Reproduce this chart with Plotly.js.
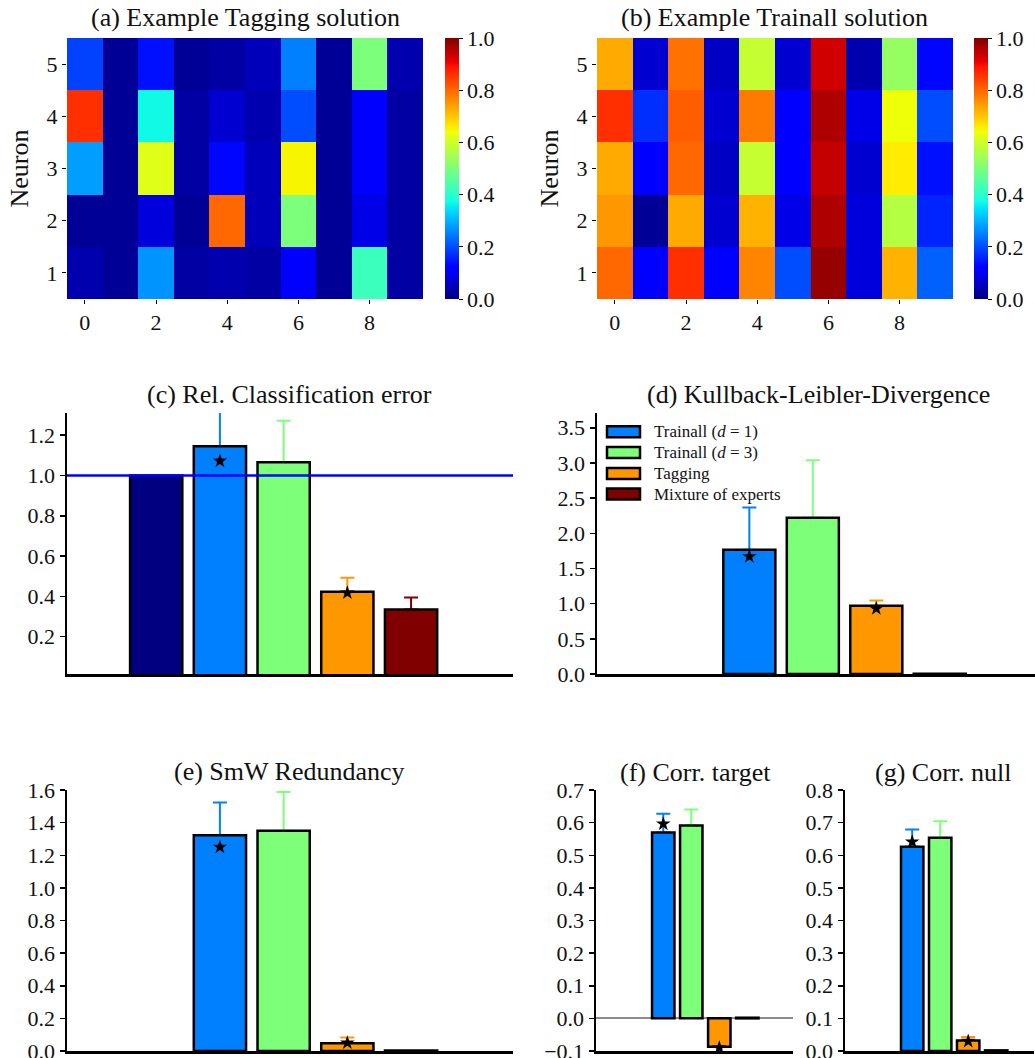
<!DOCTYPE html>
<html>
<head>
<meta charset="utf-8">
<script src="https://cdn.plot.ly/plotly-3.0.1.min.js"></script>
<style>html,body{margin:0;padding:0;background:#fff;}#chart{width:1035px;height:1058px;}</style>
</head>
<body>
<div id="chart"></div>
<script>
// ---------- data ----------
const neuronIdx = [1, 2, 3, 4, 5];
const inputIdx = [0, 1, 2, 3, 4, 5, 6, 7, 8, 9];
// rows: neuron 1..5, columns: input 0..9
const taggingZ = [
  [0.04, 0.02, 0.27, 0.03, 0.04, 0.03, 0.11, 0.02, 0.42, 0.03],
  [0.02, 0.02, 0.08, 0.02, 0.80, 0.05, 0.50, 0.02, 0.09, 0.03],
  [0.28, 0.02, 0.62, 0.03, 0.13, 0.05, 0.65, 0.02, 0.12, 0.03],
  [0.86, 0.02, 0.37, 0.03, 0.07, 0.04, 0.20, 0.02, 0.12, 0.03],
  [0.19, 0.02, 0.14, 0.02, 0.03, 0.05, 0.25, 0.02, 0.50, 0.04]
];
const trainallZ = [
  [0.80, 0.12, 0.86, 0.12, 0.77, 0.20, 0.98, 0.08, 0.72, 0.22],
  [0.75, 0.02, 0.73, 0.07, 0.72, 0.09, 0.96, 0.08, 0.57, 0.16],
  [0.73, 0.12, 0.80, 0.06, 0.59, 0.12, 0.94, 0.07, 0.66, 0.14],
  [0.86, 0.17, 0.81, 0.07, 0.78, 0.12, 0.96, 0.09, 0.64, 0.20],
  [0.73, 0.07, 0.79, 0.06, 0.59, 0.07, 0.93, 0.04, 0.53, 0.13]
];

const methods = ["Baseline", "Trainall (d = 1)", "Trainall (d = 3)", "Tagging", "Mixture of experts"];
const legendLabels = ["Trainall (<i>d</i> = 1)", "Trainall (<i>d</i> = 3)", "Tagging", "Mixture of experts"];
const methodColors = ["#000080", "#0080ff", "#7dff7a", "#ff9800", "#800000"];

const relErr      = [1.000, 1.145, 1.066, 0.423, 0.335];
const relErrSd    = [0, 0.230, 0.205, 0.070, 0.060];
const relErrStar  = [null, 1.072, null, 0.418, null];

const kld         = [null, 1.766, 2.220, 0.970, 0.005];
const kldSd       = [0, 0.600, 0.820, 0.075, 0];
const kldStar     = [null, 1.670, null, 0.930, null];

const smw         = [null, 1.323, 1.350, 0.047, 0.003];
const smwSd       = [0, 0.200, 0.238, 0.035, 0];
const smwStar     = [null, 1.250, null, 0.050, null];

const corrTarget     = [null, 0.570, 0.591, -0.087, 0.002];
const corrTargetSd   = [0, 0.057, 0.049, 0.005, 0];
const corrTargetStar = [null, 0.596, null, -0.090, null];

const corrNull     = [null, 0.626, 0.654, 0.032, 0.002];
const corrNullSd   = [0, 0.053, 0.050, 0.011, 0];
const corrNullStar = [null, 0.641, null, 0.030, null];

const panelTitles = ["(a) Example Tagging solution", "(b) Example Trainall solution",
  "(c) Rel. Classification error", "(d) Kullback-Leibler-Divergence",
  "(e) SmW Redundancy", "(f) Corr. target", "(g) Corr. null"];

// ---------- styling ----------
const FONT = "Liberation Serif, Times New Roman, serif";
const W = 1035, H = 1058;
const px = v => v / W;
const py = v => 1 - v / H;

const jet = [
  [0.0, "rgb(0,0,128)"], [0.11, "rgb(0,0,255)"], [0.125, "rgb(0,0,255)"],
  [0.34, "rgb(0,219,255)"], [0.35, "rgb(0,230,247)"], [0.375, "rgb(21,255,226)"],
  [0.64, "rgb(239,255,8)"], [0.65, "rgb(247,246,0)"], [0.66, "rgb(255,236,0)"],
  [0.89, "rgb(255,19,0)"], [0.91, "rgb(232,0,0)"], [1.0, "rgb(128,0,0)"]
];
const tickFont = {family: FONT, size: 22, color: "#111"};

const traces = [];
function heat(z, xa, ya, cbx) {
  traces.push({
    type: "heatmap", z: z, x: inputIdx, y: neuronIdx, xaxis: xa, yaxis: ya,
    colorscale: jet, zmin: 0, zmax: 1, hoverinfo: "skip",
    colorbar: {
      x: cbx, xanchor: "left", y: (py(38) + py(299)) / 2, yanchor: "middle",
      len: py(38) - py(299), lenmode: "fraction", thickness: 14,
      xpad: 0, ypad: 0, outlinewidth: 0,
      tickvals: [0, 0.2, 0.4, 0.6, 0.8, 1.0], tickformat: ".1f",
      ticks: "outside", ticklen: 4, tickcolor: "#000",
      tickfont: tickFont
    }
  });
}
heat(taggingZ, "x", "y", px(445));
heat(trainallZ, "x2", "y2", px(974));

function bars(vals, sds, stars, xa, ya, widthFrac) {
  for (let i = 0; i < methods.length; i++) {
    if (vals[i] === null) continue;
    // error bar carrier (drawn behind the visible bar)
    if (sds[i] > 0) {
      traces.push({
        type: "bar", x: [methods[i]], y: [vals[i]], xaxis: xa, yaxis: ya,
        width: widthFrac, marker: {color: "rgba(0,0,0,0)", line: {width: 0}},
        error_y: {type: "data", array: [sds[i]], arrayminus: [0], symmetric: false,
          color: methodColors[i], thickness: 2, width: 7},
        hoverinfo: "skip", showlegend: false
      });
    }
    traces.push({
      type: "bar", x: [methods[i]], y: [vals[i]], xaxis: xa, yaxis: ya,
      width: widthFrac, marker: {color: methodColors[i], line: {color: "#000", width: 2.5}},
      hoverinfo: "skip", showlegend: false
    });
  }
  traces.push({
    type: "scatter", mode: "markers", x: methods, y: stars, xaxis: xa, yaxis: ya,
    marker: {symbol: "star", color: "#000", size: 11}, hoverinfo: "skip", showlegend: false
  });
}
bars(relErr, relErrSd, relErrStar, "x3", "y3", 0.82);
bars(kld, kldSd, kldStar, "x4", "y4", 0.82);
bars(smw, smwSd, smwStar, "x5", "y5", 0.82);
bars(corrTarget, corrTargetSd, corrTargetStar, "x6", "y6", 0.8);
bars(corrNull, corrNullSd, corrNullStar, "x7", "y7", 0.8);

function heatX(domain) {
  return {domain: domain, range: [-0.5, 9.5], tickvals: [0, 2, 4, 6, 8], ticks: "outside",
    ticklen: 4, tickcolor: "#000", showline: false, showgrid: false, zeroline: false,
    tickfont: tickFont, fixedrange: true};
}
function heatY(domain, anchor) {
  return {domain: domain, anchor: anchor, range: [0.5, 5.5], tickvals: [1, 2, 3, 4, 5], ticks: "outside",
    ticklen: 4, tickcolor: "#000", showline: false, showgrid: false, zeroline: false,
    tickfont: tickFont, title: {text: "Neuron", font: {family: FONT, size: 26, color: "#111"}, standoff: 10}};
}
function barX(domain, anchor, range) {
  return {domain: domain, anchor: anchor, range: range, type: "category",
    categoryorder: "array", categoryarray: methods,
    showticklabels: false, ticks: "", showline: true, linecolor: "#000", linewidth: 2.5,
    showgrid: false, zeroline: false};
}
function barY(domain, anchor, range, tickvals, fmt) {
  return {domain: domain, anchor: anchor, range: range, tickvals: tickvals, tickformat: fmt,
    ticks: "outside", ticklen: 5, tickwidth: 1.5, tickcolor: "#000",
    showline: true, linecolor: "#000", linewidth: 2.5, showgrid: false, zeroline: false,
    tickfont: tickFont, ticklabeloverflow: "allow"};
}
const rowMid = [py(674), py(413)];
const rowBot = [py(1051), py(790)];

const layout = {
  width: W, height: H, autosize: false,
  margin: {l: 0, r: 0, t: 0, b: 0, pad: 0},
  paper_bgcolor: "#fff", plot_bgcolor: "rgba(0,0,0,0)",
  showlegend: false, barmode: "overlay",
  font: {family: FONT, color: "#111"},
  xaxis: heatX([px(67), px(423)]),
  yaxis: heatY([py(299), py(38)], "x"),
  xaxis2: Object.assign(heatX([px(597), px(953)]), {anchor: "y2"}),
  yaxis2: heatY([py(299), py(38)], "x2"),
  xaxis3: barX([px(67), px(513)], "y3", [-1.4, 5.6]),
  yaxis3: barY(rowMid, "x3", [0.015, 1.31], [0.2, 0.4, 0.6, 0.8, 1.0, 1.2], ".1f"),
  xaxis4: barX([px(597), px(1035)], "y4", [-1.4, 5.5]),
  yaxis4: barY(rowMid, "x4", [0, 3.71], [0, 0.5, 1, 1.5, 2, 2.5, 3, 3.5], ".1f"),
  xaxis5: barX([px(67), px(513)], "y5", [-1.4, 5.6]),
  yaxis5: barY(rowBot, "x5", [0, 1.6], [0, 0.2, 0.4, 0.6, 0.8, 1.0, 1.2, 1.4, 1.6], ".1f"),
  xaxis6: barX([px(596), px(793)], "y6", [-1.4, 5.63]),
  yaxis6: Object.assign(barY(rowBot, "x6", [-0.1, 0.7], [-0.1, 0, 0.1, 0.2, 0.3, 0.4, 0.5, 0.6, 0.7], ".1f"),
    {zeroline: true, zerolinecolor: "#8c8c8c", zerolinewidth: 2}),
  xaxis7: barX([px(845), px(1034)], "y7", [-1.4, 5.35]),
  yaxis7: barY(rowBot, "x7", [0, 0.8], [0, 0.1, 0.2, 0.3, 0.4, 0.5, 0.6, 0.7, 0.8], ".1f"),
  shapes: [
    {type: "line", xref: "x3 domain", yref: "y3", x0: 0, x1: 1, y0: 1.0, y1: 1.0,
      line: {color: "#0000ff", width: 2.5}, layer: "above"}
  ],
  annotations: []
};

// titles
const titlePos = [[245, 17], [774, 17], [289, 394], [818, 394], [289, 771], [695, 772], [943, 772]];
panelTitles.forEach((t, i) => {
  layout.annotations.push({text: t, xref: "paper", yref: "paper", x: px(titlePos[i][0]), y: py(titlePos[i][1]),
    xanchor: "center", yanchor: "middle", showarrow: false, font: {family: FONT, size: 26, color: "#111"}});
});

// legend (panel d)
const legendRows = [431.7, 452.5, 473.5, 494];
legendLabels.forEach((lab, i) => {
  layout.shapes.push({type: "rect", xref: "paper", yref: "paper",
    x0: px(607), x1: px(640), y0: py(legendRows[i] + 5.5), y1: py(legendRows[i] - 5.5),
    fillcolor: methodColors[i + 1], line: {color: "#000", width: 2.5}, layer: "above"});
  layout.annotations.push({text: lab, xref: "paper", yref: "paper", x: px(652), y: py(legendRows[i]),
    xanchor: "left", yanchor: "middle", showarrow: false, font: {family: FONT, size: 17, color: "#111"}});
});

Plotly.newPlot("chart", traces, layout, {displayModeBar: false, staticPlot: true});
</script>
</body>
</html>
